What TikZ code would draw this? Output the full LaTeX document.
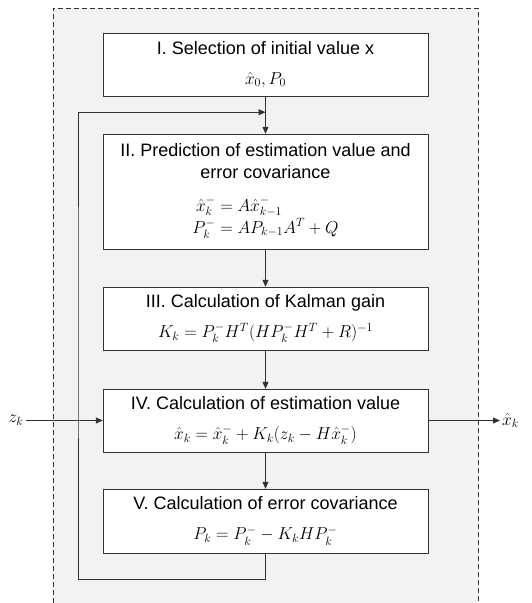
\documentclass[tikz,border=0pt]{standalone}
\usepackage{amsmath}
\usepackage{fontspec}
\setmainfont{Liberation Sans}
\usetikzlibrary{arrows.meta,positioning,calc}

\definecolor{lineGray}{RGB}{50,50,50}
\definecolor{panelGray}{RGB}{242,242,242}
\newcommand{\formulasize}{\fontsize{16.5}{20}\selectfont}

\begin{document}
\begin{tikzpicture}[x=1pt,y=-1pt,
    stage/.style={draw=lineGray, fill=white, minimum width=325pt, inner sep=0pt,
      align=center, font=\fontsize{18}{22}\selectfont},
    flow/.style={draw=lineGray, line width=0.8pt, -{Triangle[length=7pt,width=6pt]}}]
    \useasboundingbox (0,0) rectangle (531,603);
    % dashed panel, open at the bottom
    \fill[panelGray] (53,8) rectangle (478,603);
    \draw[lineGray, dash pattern=on 5pt off 3pt] (53,603) -- (53,8) -- (478,8) -- (478,603);

    \node[stage, minimum height=63pt] (sel) at (265.5,64.5)
      {I. Selection of initial value x\\[8pt] {\formulasize$\hat{x}_0, P_0$}};
    \node[stage, minimum height=115pt] (pred) at (265.5,191.5)
      {II. Prediction of estimation value and\\ error covariance\\[17pt]
       {\formulasize$\begin{aligned}\hat{x}_k^- &= A\hat{x}_{k-1}^-\\[-3pt] P_k^- &= AP_{k-1}A^T + Q\end{aligned}$}};
    \node[stage, minimum height=63pt] (gain) at (265.5,318.5)
      {III. Calculation of Kalman gain\\[8pt] {\formulasize$K_k = P_k^- H^T(HP_k^- H^T + R)^{-1}$}};
    \node[stage, minimum height=63pt] (est) at (265.5,420.5)
      {IV. Calculation of estimation value\\[8pt] {\formulasize$\hat{x}_k = \hat{x}_k^- + K_k(z_k - H\hat{x}_k^-)$}};
    \node[stage, minimum height=64pt] (cov) at (265.5,521)
      {V. Calculation of error covariance\\[8pt] {\formulasize$P_k = P_k^- - K_k H P_k^-$}};

    \node[font=\formulasize, inner sep=2pt] (zin) at (16,420.5) {$z_k$};
    \node[font=\formulasize, inner sep=2pt, anchor=west] (xout) at (500,420.5) {$\hat{x}_k$};

    \coordinate (merge) at ($(sel.south)+(0,16)$);
    \coordinate (loopx) at (78,300);

    \draw[flow] (sel) -- (pred);
    \draw[flow] (pred) -- (gain);
    \draw[flow] (gain) -- (est);
    \draw[flow] (est) -- (cov);
    \draw[flow] (cov.south) -- ++(0,26) -| (loopx) |- (merge);
    \draw[flow] (zin) -- (est);
    \draw[flow] (est) -- (xout);
\end{tikzpicture}
\end{document}
